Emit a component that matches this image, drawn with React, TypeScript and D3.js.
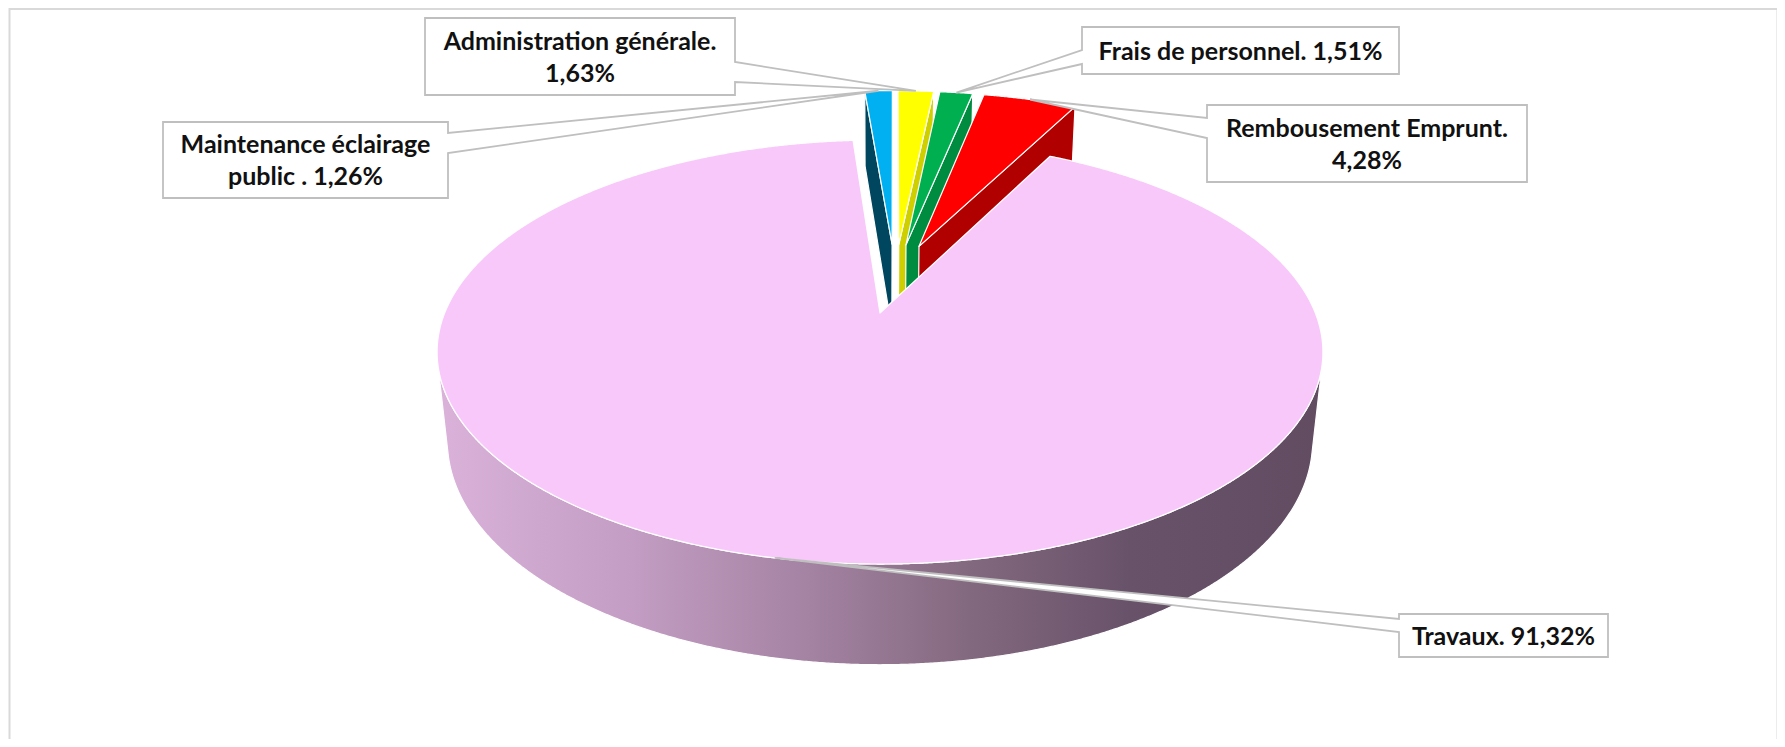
import React from "react";
import * as d3 from "d3";

// budget shares (percent), in the order Excel draws them clockwise
const categories = [
  "Maintenance éclairage public",
  "Administration générale",
  "Frais de personnel",
  "Rembousement Emprunt",
  "Travaux",
];
const shares = [1.26, 1.63, 1.51, 4.28, 91.32];
const shareLabels = ["1,26%", "1,63%", "1,51%", "4,28%", "91,32%"];
const labelLines = [
  ["Maintenance éclairage", "public . 1,26%"],
  ["Administration générale.", "1,63%"],
  ["Frais de personnel. 1,51%"],
  ["Rembousement Emprunt.", "4,28%"],
  ["Travaux. 91,32%"],
];

const topColors = ["#00B0F0", "#FFFF00", "#00B050", "#FF0000", "#F8C8FA"];
const wallColors = ["#00465F", "#CFCF00", "#008C40", "#B00000", "#8E708E"];

// callout boxes, page coords [x0, y0, x1, y1], side where the wedge leaves, wedge attach y's
const callouts = [
  { box: [163, 122, 448, 198], side: "right", attach: [133, 153] },
  { box: [425, 18, 735, 95], side: "right", attach: [62, 82] },
  { box: [1082, 27, 1399, 74], side: "left", attach: [50, 64] },
  { box: [1207, 105, 1527, 182], side: "left", attach: [118, 138] },
  { box: [1399, 614, 1608, 657], side: "left", attach: [619, 632] },
];

// 3D view settings (radius = 1)
const START_DEG = -4.2;
const EXPLODE = 0.18;
const THICK = 0.235;
const CAM_DIST = 4.794;
const FOCAL = 2087;
const TILT = Math.asin(0.4705);
const ORIGIN = [880, 313]; // screen spot of the big slice's apex
const MAIN = 4;

const rad = (d: number) => (d * Math.PI) / 180;

export default function App() {
  const W = 1769, H = 731;
  const pie = d3.pie<number>().sort(null)
    .startAngle(rad(START_DEG))
    .endAngle(rad(START_DEG) + 2 * Math.PI);
  const arcs = pie(shares);

  const centers = arcs.map(a => {
    const m = (a.startAngle + a.endAngle) / 2;
    return { x: EXPLODE * Math.sin(m), z: -EXPLODE * Math.cos(m), mid: m };
  });
  const target = centers[MAIN];
  const sinT = Math.sin(TILT), cosT = Math.cos(TILT);
  const cam = { x: target.x, z: target.z + CAM_DIST * cosT };

  const project = (x: number, y: number, z: number): [number, number] => {
    const px = x - target.x, pz = z - target.z;
    const depth = CAM_DIST - y * sinT - pz * cosT;
    return [ORIGIN[0] + (FOCAL * px) / depth, ORIGIN[1] - (FOCAL * (y * cosT - pz * sinT)) / depth];
  };
  const rim = (c: any, a: number, y: number) => project(c.x + Math.sin(a), y, c.z - Math.cos(a));
  const line = d3.line();
  const closed = (pts: [number, number][]) => line(pts) + "Z";

  const sample = (a0: number, a1: number) => {
    const n = Math.max(2, Math.ceil((a1 - a0) / rad(0.25)));
    return d3.range(n + 1).map(i => a0 + ((a1 - a0) * i) / n);
  };

  const order = d3.range(arcs.length).sort((i, j) => centers[i].z - centers[j].z);

  const faces: { d: string; fill: string; key: string }[] = [];
  order.forEach(i => {
    const a = arcs[i], c = centers[i];
    const a0 = a.startAngle, a1 = a.endAngle;
    const sideFill = i === MAIN ? "url(#sideGrad)" : wallColors[i];
    // radial walls
    const walls = [
      { ang: a0, n: [-Math.cos(a0), -Math.sin(a0)] },
      { ang: a1, n: [Math.cos(a1), Math.sin(a1)] },
    ];
    walls.forEach((w, k) => {
      const dot = w.n[0] * (cam.x - c.x) + w.n[1] * (cam.z - c.z);
      if (dot <= 0) return;
      const pts: [number, number][] = [
        project(c.x, 0, c.z), rim(c, w.ang, 0), rim(c, w.ang, -THICK), project(c.x, -THICK, c.z),
      ];
      faces.push({ d: closed(pts), fill: wallColors[i], key: `w${i}${k}` });
    });
    // outer side, visible runs only
    const angs = sample(a0, a1);
    let run: number[] = [];
    const runs: number[][] = [];
    angs.forEach(t => {
      const px = c.x + Math.sin(t), pz = c.z - Math.cos(t);
      const vis = Math.sin(t) * (cam.x - px) - Math.cos(t) * (cam.z - pz) > 0;
      if (vis) run.push(t);
      else if (run.length) { runs.push(run); run = []; }
    });
    if (run.length) runs.push(run);
    runs.forEach((r, k) => {
      if (r.length < 2) return;
      const pts = [...r.map(t => rim(c, t, 0)), ...r.slice().reverse().map(t => rim(c, t, -THICK))];
      faces.push({ d: closed(pts), fill: sideFill, key: `s${i}${k}` });
    });
    // top
    const top = [project(c.x, 0, c.z), ...angs.map(t => rim(c, t, 0))];
    faces.push({ d: closed(top), fill: topColors[i], key: `t${i}` });
  });

  const tips = arcs.map((a, i) => rim(centers[i], centers[i].mid, 0));

  const calloutPath = (co: any, tip: [number, number]) => {
    const [x0, y0, x1, y1] = co.box;
    const [ya, yb] = co.attach;
    if (co.side === "right") {
      return `M${x0},${y0}H${x1}V${ya}L${tip[0]},${tip[1]}L${x1},${yb}V${y1}H${x0}Z`;
    }
    return `M${x0},${y0}H${x1}V${y1}H${x0}V${yb}L${tip[0]},${tip[1]}L${x0},${ya}Z`;
  };

  return (
    <svg width={W} height={H} style={{ display: "block" }}>
      <defs>
        <linearGradient id="sideGrad" gradientUnits="userSpaceOnUse" x1={437} x2={1324} y1={0} y2={0}>
          <stop offset="0" stopColor="#DAB2DA" />
          <stop offset="0.22" stopColor="#C39DC3" />
          <stop offset="0.4" stopColor="#A785A6" />
          <stop offset="0.6" stopColor="#83697F" />
          <stop offset="0.78" stopColor="#68526A" />
          <stop offset="1" stopColor="#624C62" />
        </linearGradient>
      </defs>
      <g transform="translate(-8,-8)">
        <rect x={9.5} y={9} width={1768} height={800} fill="#fff" stroke="#D9D9D9" strokeWidth={2} />
        <g>
          {faces.map(f => (
            <path key={f.key} d={f.d} fill={f.fill} stroke="#fff" strokeWidth={1.2} strokeLinejoin="round" />
          ))}
        </g>
        <g fontFamily="Lato, 'Open Sans', sans-serif" fontWeight={700} fontSize={25} fill="#111">
          {callouts.map((co, i) => {
            const [x0, y0, x1, y1] = co.box;
            const cx = (x0 + x1) / 2, cy = (y0 + y1) / 2;
            const lines = labelLines[i];
            return (
              <g key={categories[i]}>
                <path d={calloutPath(co, tips[i])} fill="#fff" stroke="#BFBFBF" strokeWidth={1.8} />
                {lines.map((t, k) => (
                  <text key={k} x={cx} y={cy + 9 + (k - (lines.length - 1) / 2) * 32} textAnchor="middle">
                    {t}
                  </text>
                ))}
              </g>
            );
          })}
        </g>
      </g>
    </svg>
  );
}
